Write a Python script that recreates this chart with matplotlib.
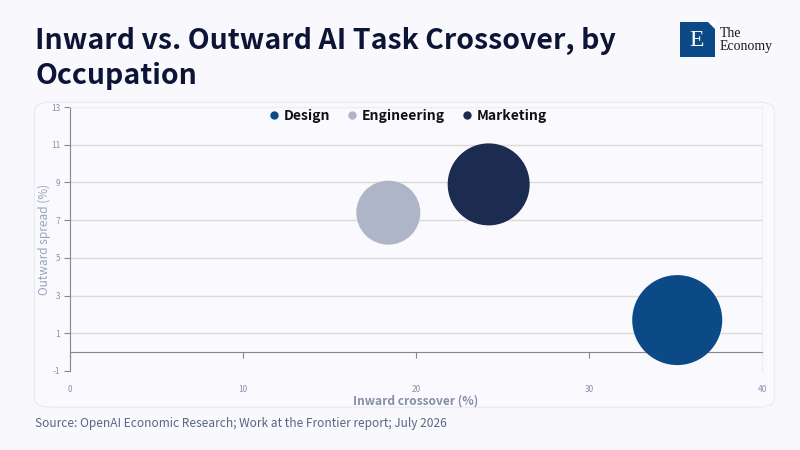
import matplotlib
matplotlib.use("Agg")
import matplotlib.pyplot as plt
from matplotlib.patches import FancyBboxPatch, Rectangle, Polygon
from matplotlib.lines import Line2D

# data
occupations = ["Design", "Engineering", "Marketing"]
inward = [35.1, 18.4, 24.2]      # Inward crossover (%)
outward = [1.7, 7.4, 8.9]        # Outward spread (%)
bubble = [45, 32, 41]            # relative bubble size
colors = ["#0c4a87", "#aeb5c6", "#1b2c50"]

x_ticks = [0, 10, 20, 30, 40]
y_ticks = [-1, 1, 3, 5, 7, 9, 11, 13]

bg = "#f8f8fd"
plt.rcParams["font.family"] = ["Noto Sans CJK SC", "DejaVu Sans"]
plt.rcParams["axes.unicode_minus"] = False

fig = plt.figure(figsize=(8, 4.5), dpi=100, facecolor=bg)

# rounded panel behind the chart
panel = FancyBboxPatch((0.043, 0.095), 0.925, 0.678, boxstyle="round,pad=0,rounding_size=0.02",
                       transform=fig.transFigure, facecolor="#f9f9fe", edgecolor="#ececf3",
                       linewidth=1, zorder=-5)
fig.patches.append(panel)

ax = fig.add_axes([0.0875, 0.1756, 0.865, 0.5864], zorder=2)
ax.set_facecolor("none")
ax.set_xlim(0, 40)
ax.set_ylim(-1, 13)

# bubbles: radius linear in bubble value (px), s is area in pt^2
for name, x, y, b, c in zip(occupations, inward, outward, bubble, colors):
    d_pt = 2 * b * 0.72
    ax.scatter(x, y, s=d_pt ** 2, color=c, edgecolors="none", zorder=3, label=name)

ax.set_yticks(y_ticks)
ax.set_xticks(x_ticks)
for t in y_ticks[1:-1]:
    ax.axhline(t, color="#dcdad3", linewidth=1, zorder=1)
ax.axhline(13, color="#f0f0ee", linewidth=1, zorder=1)

for s in ["top", "right"]:
    ax.spines[s].set_color("#f0f0ea")
    ax.spines[s].set_linewidth(0.8)
ax.spines["left"].set_color("#888888")
ax.spines["bottom"].set_position(("data", 0))
ax.spines["bottom"].set_color("#888888")
ax.spines["bottom"].set_bounds(0, 40)

ax.tick_params(axis="y", length=4, width=0.8, color="#888888", labelsize=6,
               labelcolor="#8a93ae", pad=3)
ax.tick_params(axis="x", length=4, width=0.8, color="#888888", labelsize=6,
               labelcolor="#8a93ae", pad=20)
ax.set_ylabel("Outward spread (%)", fontsize=8.5, color="#9ba3bb", labelpad=0)
ax.set_xlabel("Inward crossover (%)", fontsize=8.6, color="#868ea8", fontweight="bold", labelpad=0)

handles = [Line2D([], [], marker="o", linestyle="none", markersize=6, markerfacecolor=c,
                  markeredgecolor="none") for c in colors]
leg = ax.legend(handles, occupations, loc="upper center", bbox_to_anchor=(0.488, 1.04), ncol=3,
                frameon=False, handlelength=0.8, handletextpad=0.3, columnspacing=1.2,
                prop={"size": 10, "weight": "bold"})
for t in leg.get_texts():
    t.set_color("#111111")

fig.text(0.044, 0.94, "Inward vs. Outward AI Task Crossover, by\nOccupation", fontsize=20.5,
         fontweight="bold", color="#0d1537", va="top", ha="left", linespacing=1.3)

fig.text(0.044, 0.06, "Source: OpenAI Economic Research; Work at the Frontier report; July 2026",
         fontsize=8.6, color="#5b6583", va="center", ha="left")

# logo
fig.patches.append(Rectangle((0.85, 0.873), 0.044, 0.078, transform=fig.transFigure,
                             facecolor="#0c4a87", edgecolor="none"))
fig.patches.append(Polygon([[0.8855, 0.951], [0.894, 0.951], [0.894, 0.936]], closed=True,
                           transform=fig.transFigure, facecolor="white", edgecolor="none"))
fig.text(0.871, 0.909, "E", fontsize=17, color="white", family="Liberation Serif",
         ha="center", va="center")
fig.text(0.9, 0.925, "The", fontsize=10, color="#1a1a1a", family="Liberation Serif",
         ha="left", va="center")
fig.text(0.9, 0.897, "Economy", fontsize=10, color="#1a1a1a", family="Liberation Serif",
         ha="left", va="center")

fig.savefig("out.png", dpi=100, facecolor=bg)
